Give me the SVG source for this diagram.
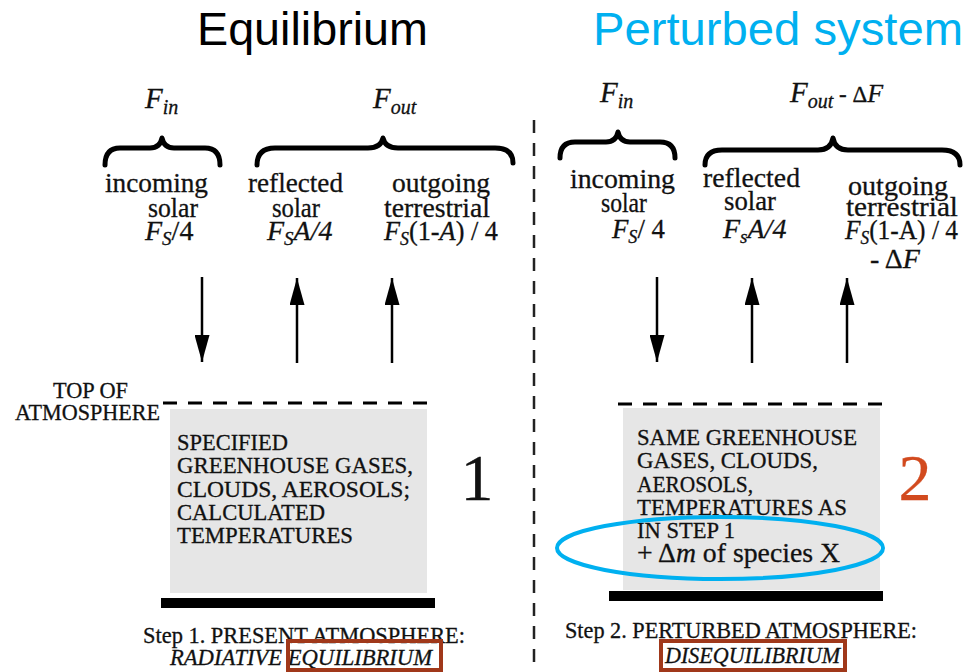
<svg xmlns="http://www.w3.org/2000/svg" width="975" height="672" viewBox="0 0 975 672">
<defs>
<style>
.title{font-family:"Liberation Sans",Arial,sans-serif;font-size:46px}
.s{font-family:"Liberation Serif","Times New Roman",serif;fill:#111;stroke:#111;stroke-width:0.3}
.lab{font-size:28px}
.it{font-style:italic}
.box{font-size:24px}
.brace{fill:none;stroke:#000;stroke-width:5;stroke-linecap:round;stroke-linejoin:round}
.arrow{stroke:#000;stroke-width:2.5;fill:none;marker-end:url(#ah)}
.toa{stroke:#000;stroke-width:3;stroke-dasharray:14 11}
.gbox{fill:#e6e6e6}
.hl{fill:none;stroke:#a0381a;stroke-width:4}
</style>
<marker id="ah" markerUnits="userSpaceOnUse" markerWidth="27" markerHeight="15" viewBox="0 0 27 15" refX="27" refY="7.5" orient="auto">
<path d="M0,0 L27,7.5 L0,15 z" fill="#000"/>
</marker>
</defs>
<rect width="975" height="672" fill="#fff"/>

<g id="titles">
<text class="title" x="197" y="45" fill="#000" textLength="231" lengthAdjust="spacingAndGlyphs">Equilibrium</text>
<text class="title" x="593" y="45" fill="#00b0f0" textLength="370" lengthAdjust="spacingAndGlyphs">Perturbed system</text>
</g>

<g id="divider">
<line x1="534" y1="120" x2="534" y2="672" stroke="#222" stroke-width="2.5" stroke-dasharray="13 10"/>
</g>

<!-- Left panel: Equilibrium -->
<g id="left-headers">
<text class="s it" x="145" y="108" font-size="29">F<tspan font-size="20" dy="6">in</tspan></text>
<text class="s it" x="373" y="108" font-size="29">F<tspan font-size="20" dy="6">out</tspan></text>
<path class="brace" d="M105,165 Q105,148 120,148 L150,148 Q160,148 162,138 Q164,148 174,148 L205,148 Q220,148 220,165"/>
<path class="brace" d="M257,165 Q257,148 275,148 L368,148 Q381,148 383,138 Q385,148 398,148 L495,148 Q513,148 513,163"/>
</g>

<g id="left-incoming">
<text class="s lab" x="105" y="192" textLength="103" lengthAdjust="spacingAndGlyphs">incoming</text>
<text class="s lab" x="148" y="217" textLength="50" lengthAdjust="spacingAndGlyphs">solar</text>
<text class="s lab" x="145" y="240"><tspan class="it">F</tspan><tspan class="it" font-size="19" dy="5">S</tspan><tspan dy="-5">/4</tspan></text>
</g>
<g id="left-reflected">
<text class="s lab" x="248" y="192" textLength="95" lengthAdjust="spacingAndGlyphs">reflected</text>
<text class="s lab" x="272" y="217" textLength="48" lengthAdjust="spacingAndGlyphs">solar</text>
<text class="s lab it" x="267" y="240">F<tspan font-size="19" dy="5">S</tspan><tspan dy="-5">A/4</tspan></text>
</g>
<g id="left-outgoing">
<text class="s lab" x="392" y="192" textLength="98" lengthAdjust="spacingAndGlyphs">outgoing</text>
<text class="s lab" x="384" y="217" textLength="106" lengthAdjust="spacingAndGlyphs">terrestrial</text>
<text class="s lab" x="384" y="240" textLength="114" lengthAdjust="spacingAndGlyphs"><tspan class="it">F</tspan><tspan class="it" font-size="19" dy="5">S</tspan><tspan dy="-5">(1-</tspan><tspan class="it">A</tspan><tspan>) / 4</tspan></text>
</g>

<g id="left-toa">
<text class="s box" x="53" y="398" textLength="75" lengthAdjust="spacingAndGlyphs">TOP OF</text>
<text class="s box" x="15" y="420" textLength="145" lengthAdjust="spacingAndGlyphs">ATMOSPHERE</text>
<line class="toa" x1="163" y1="403" x2="432" y2="403"/>
</g>

<g id="left-box">
<rect class="gbox" x="170" y="409" width="257" height="184"/>
<rect x="161" y="598" width="274" height="10" fill="#000"/>
<text class="s box" x="177" y="450" textLength="111" lengthAdjust="spacingAndGlyphs">SPECIFIED</text>
<text class="s box" x="177" y="473" textLength="236" lengthAdjust="spacingAndGlyphs">GREENHOUSE GASES,</text>
<text class="s box" x="177" y="497" textLength="233" lengthAdjust="spacingAndGlyphs">CLOUDS, AEROSOLS;</text>
<text class="s box" x="177" y="520" textLength="148" lengthAdjust="spacingAndGlyphs">CALCULATED</text>
<text class="s box" x="177" y="543" textLength="176" lengthAdjust="spacingAndGlyphs">TEMPERATURES</text>
</g>
<g id="num1">
<text class="s" x="477" y="500" font-size="66" text-anchor="middle">1</text>
</g>

<g id="left-caption">
<text class="s" x="143" y="643" font-size="23" textLength="322" lengthAdjust="spacingAndGlyphs">Step 1. PRESENT  ATMOSPHERE:</text>
<text class="s it" x="170" y="665" font-size="23" textLength="262" lengthAdjust="spacingAndGlyphs">RADIATIVE EQUILIBRIUM</text>
<rect class="hl" x="288" y="641" width="153" height="29"/>
</g>

<!-- Right panel: Perturbed -->
<g id="right-headers">
<text class="s it" x="600" y="102" font-size="29">F<tspan font-size="20" dy="6">in</tspan></text>
<text class="s" x="790" y="102" font-size="29"><tspan class="it">F</tspan><tspan class="it" font-size="20" dy="6">out</tspan><tspan font-size="23" dy="-6"> - Δ</tspan><tspan class="it" font-size="26">F</tspan></text>
<path class="brace" d="M560,158 Q560,142 575,142 L606,142 Q616,142 618,132 Q620,142 630,142 L660,142 Q675,142 675,158"/>
<path class="brace" d="M705,165 Q705,150 722,150 L818,150 Q831,150 833,138 Q835,150 848,150 L942,150 Q960,150 960,165"/>
</g>

<g id="right-incoming">
<text class="s lab" x="570" y="188" textLength="105" lengthAdjust="spacingAndGlyphs">incoming</text>
<text class="s lab" x="601" y="212" textLength="46" lengthAdjust="spacingAndGlyphs">solar</text>
<text class="s lab" x="612" y="238" textLength="53" lengthAdjust="spacingAndGlyphs"><tspan class="it">F</tspan><tspan class="it" font-size="19" dy="5">S</tspan><tspan dy="-5">/ 4</tspan></text>
</g>
<g id="right-reflected">
<text class="s lab" x="703" y="187" textLength="97" lengthAdjust="spacingAndGlyphs">reflected</text>
<text class="s lab" x="724" y="210" textLength="52" lengthAdjust="spacingAndGlyphs">solar</text>
<text class="s lab it" x="723" y="238">F<tspan font-size="19" dy="5">s</tspan><tspan dy="-5">A/4</tspan></text>
</g>
<g id="right-outgoing">
<text class="s lab" x="848" y="195" textLength="100" lengthAdjust="spacingAndGlyphs">outgoing</text>
<text class="s lab" x="846" y="216" textLength="112" lengthAdjust="spacingAndGlyphs">terrestrial</text>
<text class="s lab" x="845" y="239" textLength="113" lengthAdjust="spacingAndGlyphs"><tspan class="it">F</tspan><tspan class="it" font-size="19" dy="5">S</tspan><tspan dy="-5">(1-A) / 4</tspan></text>
<text class="s lab" x="870" y="268">- Δ<tspan class="it">F</tspan></text>
</g>

<g id="right-toa">
<line class="toa" x1="618" y1="404" x2="887" y2="404"/>
</g>

<g id="right-box">
<rect class="gbox" x="623" y="408" width="257" height="182"/>
<rect x="609" y="591" width="274" height="10" fill="#000"/>
<text class="s box" x="637" y="445" textLength="220" lengthAdjust="spacingAndGlyphs">SAME GREENHOUSE</text>
<text class="s box" x="637" y="468" textLength="181" lengthAdjust="spacingAndGlyphs">GASES, CLOUDS,</text>
<text class="s box" x="637" y="492" textLength="116" lengthAdjust="spacingAndGlyphs">AEROSOLS,</text>
<text class="s box" x="637" y="515" textLength="210" lengthAdjust="spacingAndGlyphs">TEMPERATURES AS</text>
<text class="s box" x="637" y="538" textLength="98" lengthAdjust="spacingAndGlyphs">IN STEP 1</text>
<text class="s" x="637" y="562" font-size="27" textLength="203" lengthAdjust="spacingAndGlyphs">+  Δ<tspan class="it">m</tspan> of species X</text>
<ellipse cx="720" cy="548" rx="163" ry="31" fill="none" stroke="#00b0f0" stroke-width="4"/>
</g>
<g id="num2">
<text class="s" x="915" y="500" font-size="66" text-anchor="middle" style="fill:#d24a1e;stroke:#d24a1e">2</text>
</g>

<g id="right-caption">
<text class="s" x="565" y="638" font-size="23" textLength="352" lengthAdjust="spacingAndGlyphs">Step 2. PERTURBED  ATMOSPHERE:</text>
<text class="s it" x="665" y="663" font-size="23" textLength="175" lengthAdjust="spacingAndGlyphs">DISEQUILIBRIUM</text>
<rect class="hl" x="661" y="641" width="184" height="29"/>
</g>

<g id="connectors">
<line class="arrow" x1="202" y1="277" x2="202" y2="362"/>
<line class="arrow" x1="297" y1="363" x2="297" y2="278"/>
<line class="arrow" x1="392" y1="363" x2="392" y2="278"/>
<line class="arrow" x1="657" y1="277" x2="657" y2="362"/>
<line class="arrow" x1="752" y1="363" x2="752" y2="278"/>
<line class="arrow" x1="847" y1="363" x2="847" y2="278"/>
</g>
</svg>
